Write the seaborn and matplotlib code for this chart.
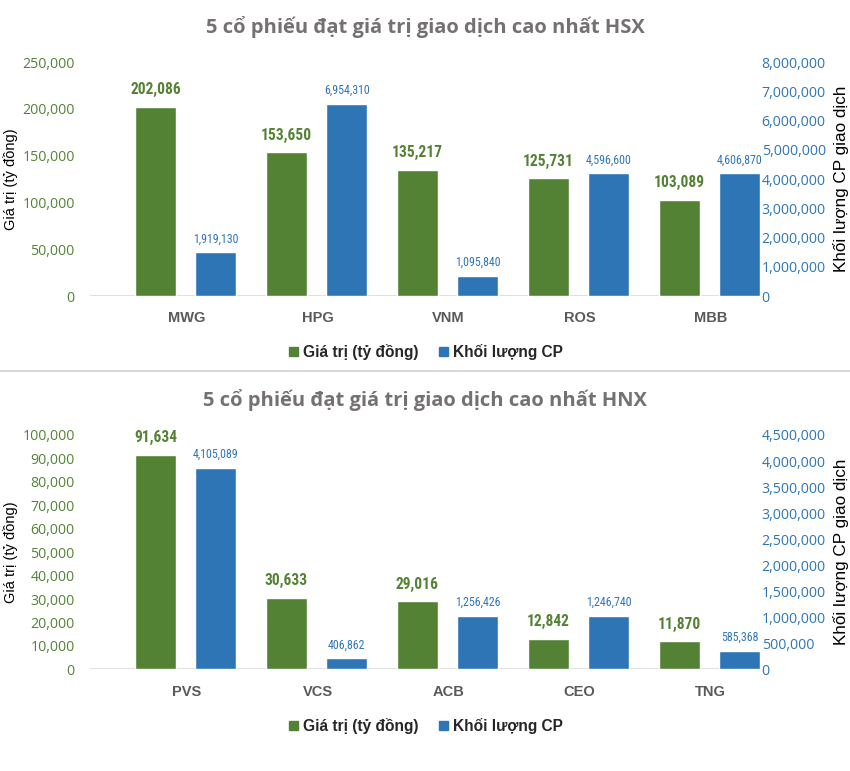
import numpy as np
import pandas as pd
import seaborn as sns
import matplotlib.pyplot as plt
from matplotlib.patches import Patch

# mau
XANH_LA = "#548235"
XANH_DUONG = "#2E75B6"
XAM = "#767171"

# du lieu HSX
hsx_ma = ["MWG", "HPG", "VNM", "ROS", "MBB"]
hsx_gia_tri = [202086, 153650, 135217, 125731, 103089]
hsx_khoi_luong = [1490000, 6560000, 680000, 4200000, 4200000]  # chieu cao cot doc tu hinh
hsx_khoi_luong_nhan = [1919130, 6954310, 1095840, 4596600, 4606870]

# du lieu HNX
hnx_ma = ["PVS", "VCS", "ACB", "CEO", "TNG"]
hnx_gia_tri = [91634, 30633, 29016, 12842, 11870]
hnx_khoi_luong = [3870000, 210000, 1020000, 1020000, 350000]
hnx_khoi_luong_nhan = [4105089, 406862, 1256426, 1246740, 585368]

sns.set_theme(style="white")
plt.rcParams['font.family'] = ['Liberation Sans', 'DejaVu Sans']
FONT_HEP = ["Roboto Condensed", "Liberation Sans"]

fig = plt.figure(figsize=(8.5, 7.71), dpi=100)


def ve_bieu_do(ax, ma, gia_tri, khoi_luong, nhan_kl, gioi_han_trai, buoc_trai,
               gioi_han_phai, buoc_phai, tieu_de, y_tieu_de, y_chu_giai):
    vi_tri = np.arange(len(ma))
    df = pd.DataFrame({"x_gt": vi_tri - 0.238, "x_kl": vi_tri + 0.222,
                       "gia_tri": gia_tri, "khoi_luong": khoi_luong})

    sns.barplot(data=df, x="x_gt", y="gia_tri", native_scale=True, width=0.313,
                color=XANH_LA, saturation=1, errorbar=None, ax=ax)
    ax2 = ax.twinx()
    sns.barplot(data=df, x="x_kl", y="khoi_luong", native_scale=True, width=0.313,
                color=XANH_DUONG, saturation=1, errorbar=None, ax=ax2)
    for p in ax.patches + ax2.patches:
        p.set_clip_on(False)

    ax.set_xlim(-0.737, 4.263)
    ax.set_ylim(0, gioi_han_trai)
    ax2.set_ylim(0, gioi_han_phai)
    ax.set_yticks(np.arange(0, gioi_han_trai + 1, buoc_trai))
    ax2.set_yticks(np.arange(0, gioi_han_phai + 1, buoc_phai))
    ax.yaxis.set_major_formatter(lambda v, pos: f"{int(v):,}")
    ax2.yaxis.set_major_formatter(lambda v, pos: f"{int(v):,}")
    ax.tick_params(axis="y", length=0, pad=11, labelsize=10.2, labelcolor=XANH_LA)
    ax2.tick_params(axis="y", length=0, pad=12, labelsize=10.2, labelcolor=XANH_DUONG)
    for t in ax.get_yticklabels() + ax2.get_yticklabels():
        t.set_family(["Open Sans", "DejaVu Sans"])

    ax.set_xticks(vi_tri)
    ax.set_xticklabels(ma, fontweight="bold", color="#595959", fontsize=10.5)
    ax.tick_params(axis="x", length=0, pad=11)
    ax.set_xlabel("")
    ax.set_ylabel("Giá trị (tỷ đồng)", fontsize=10.5, color="black")
    ax2.set_ylabel("Khối lượng CP giao dịch", fontsize=12.3, color="black")
    ax.yaxis.set_label_coords(-0.122, 0.5)
    ax2.yaxis.set_label_coords(1.147, 0.5)
    ax.yaxis.label.set_va("center")
    ax2.yaxis.label.set_va("center")

    for a in (ax, ax2):
        for s in a.spines.values():
            s.set_visible(False)
    ax.axhline(0, color="#D9D9D9", lw=1.2, zorder=0)

    ax.bar_label(ax.containers[0], labels=[f"{v:,}" for v in gia_tri], padding=7,
                 fontsize=11.2, fontweight="bold", color=XANH_LA, family=FONT_HEP)
    ax2.bar_label(ax2.containers[0], labels=[f"{v:,}" for v in nhan_kl], padding=5,
                  fontsize=8.6, color=XANH_DUONG, family=FONT_HEP)

    fig.text(0.5, y_tieu_de, tieu_de, ha="center", va="center", fontsize=14.5,
             fontweight="bold", color=XAM, family=["Open Sans", "DejaVu Sans"])

    fig.legend(handles=[Patch(color=XANH_LA, label="Giá trị (tỷ đồng)"),
                        Patch(color=XANH_DUONG, label="Khối lượng CP")],
               loc="center", bbox_to_anchor=(0.501, y_chu_giai), ncol=2, frameon=False,
               handlelength=0.6, handleheight=0.6, handletextpad=0.3, columnspacing=1.3,
               prop={"weight": "bold", "size": 11.2})


ax_tren = fig.add_axes([0.1059, 0.616, 0.7706, 0.3035])
ve_bieu_do(ax_tren, hsx_ma, hsx_gia_tri, hsx_khoi_luong, hsx_khoi_luong_nhan,
           250000, 50000, 8000000, 1000000,
           "5 cổ phiếu đạt giá trị giao dịch cao nhất HSX", 1 - 27 / 771, 1 - 352 / 771)

ax_duoi = fig.add_axes([0.1059, 0.1319, 0.7706, 0.3039])
ve_bieu_do(ax_duoi, hnx_ma, hnx_gia_tri, hnx_khoi_luong, hnx_khoi_luong_nhan,
           100000, 10000, 4500000, 500000,
           "5 cổ phiếu đạt giá trị giao dịch cao nhất HNX", 1 - 400 / 771, 1 - 726 / 771)

# duong phan cach
fig.add_artist(plt.Line2D([0, 1], [1 - 371 / 771] * 2, color="#D9D9D9", lw=1.5))

fig.savefig("out.png", dpi=100)
